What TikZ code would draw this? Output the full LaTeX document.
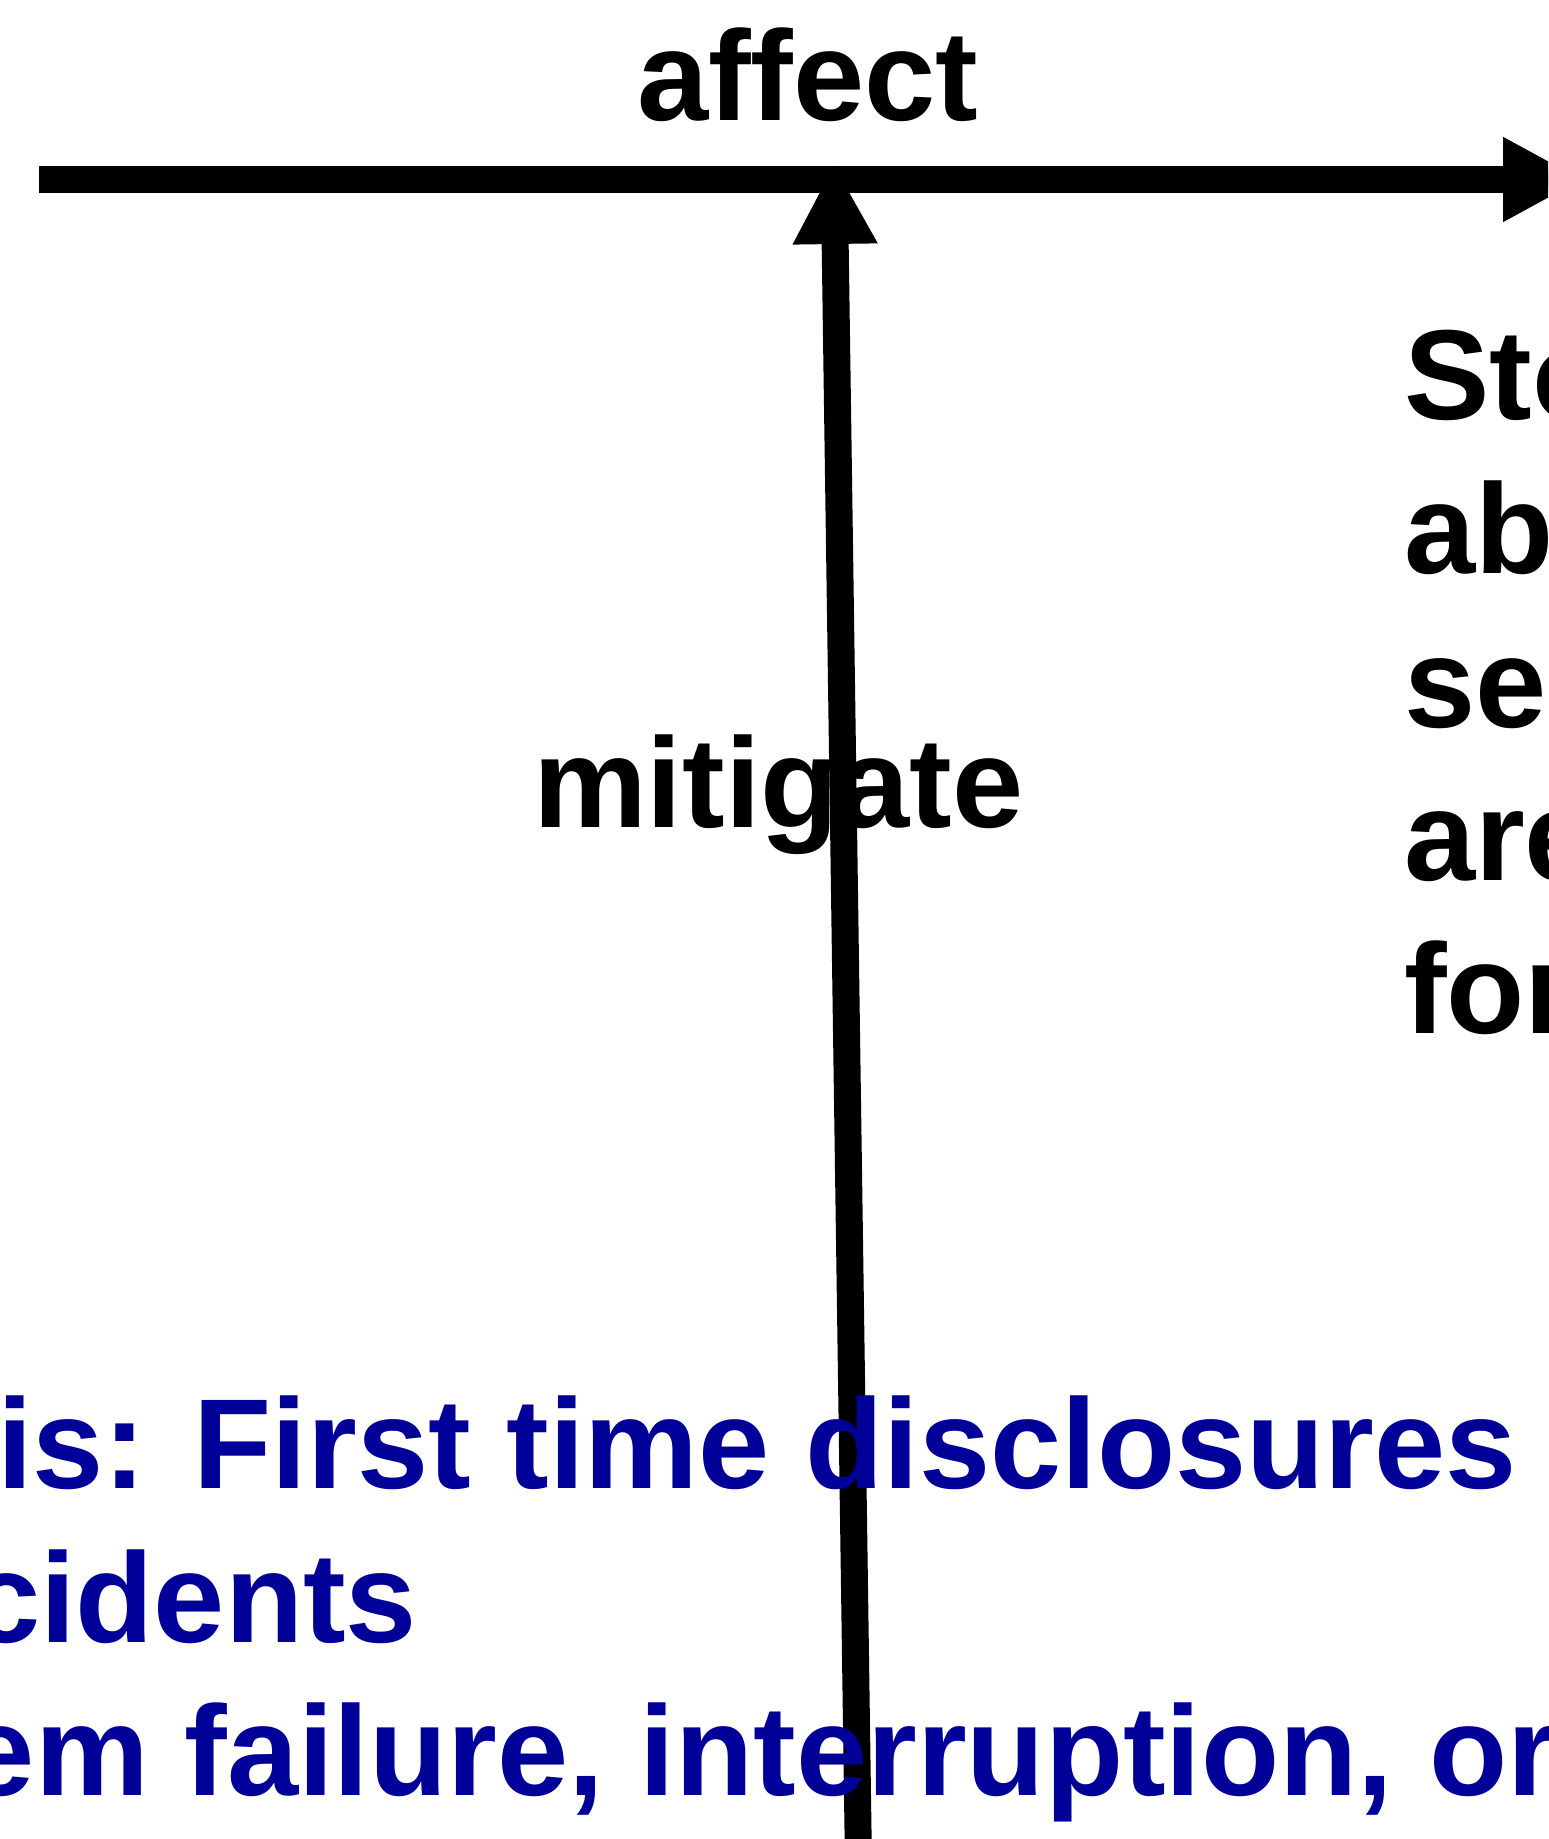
\documentclass[tikz,border=0pt]{standalone}
\usepackage{fontspec}
\setmainfont{Liberation Sans}
\usetikzlibrary{arrows.meta}
\definecolor{hypblue}{RGB}{0,0,153}
\begin{document}
\begin{tikzpicture}[x=0.5pt,y=-0.5pt,
  lbl/.style={anchor=base west,inner sep=0pt,outer sep=0pt,font=\fontsize{64}{76.5}\selectfont\bfseries},
  bluelbl/.style={lbl,text=hypblue},
  bigarrow/.style={line width=13.5pt,-{Triangle[length=40pt,width=39.5pt]}}]
\useasboundingbox (0,0) rectangle (1548,1839);
\clip (0,0) rectangle (1548,1839);
% arrows
\coordinate (hstart) at (39,179.5);
\coordinate (hend) at (1583,179.5);
\coordinate (vstart) at (859,1900);
\coordinate (vend) at (834,164);
\draw[bigarrow] (hstart) -- (hend);
\draw[bigarrow] (vstart) -- (vend);
% labels
\node[lbl] (affect) at (637,121) {affect};
\node[lbl] (mitigate) at (533,827) {mitigate};
% right text (cut by the picture edge)
\node[lbl] (r1) at (1404,420) {Sto};
\node[lbl] (r2) at (1404,573.5) {ab};
\node[lbl] (r3) at (1404,727) {se};
\node[lbl] (r4) at (1404,880) {are};
\node[lbl] (r5) at (1404,1033.5) {for};
% blue text (cut by the picture edge)
\node[bluelbl] (b1) at (-3,1488) {is: First time disclosures};
\node[bluelbl] (b2) at (-31,1642) {cidents};
\node[bluelbl] (b3) at (-36,1795) {em failure, interruption, or};
\end{tikzpicture}
\end{document}
